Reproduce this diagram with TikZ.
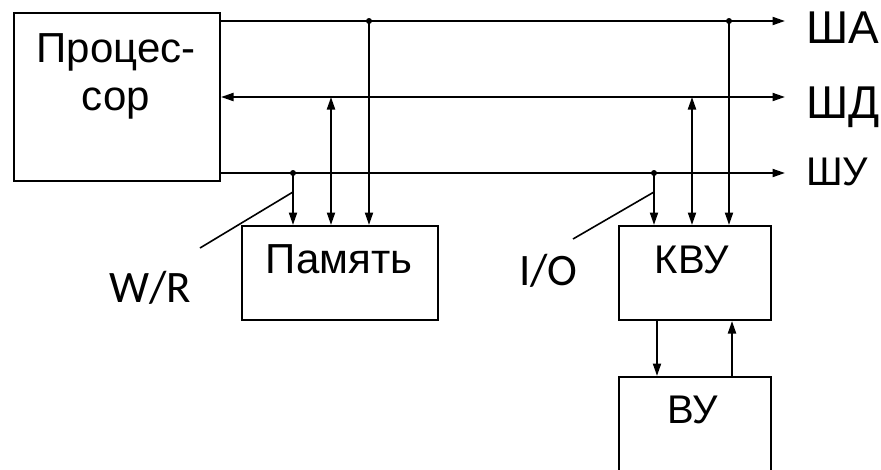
\documentclass[tikz,border=0pt]{standalone}
\usepackage{fontspec}
\setmainfont{Liberation Sans}
\newfontfamily\calfont{Carlito}
\usetikzlibrary{arrows.meta}
\begin{document}
\begin{tikzpicture}[x=1pt,y=-1pt,line width=2pt,
  box/.style={draw,line width=2pt,inner sep=0pt,anchor=north west},
  lbl/.style={font=\fontsize{42}{48}\selectfont,inner sep=0pt,anchor=base},
  sig/.style={font=\calfont\fontsize{45}{50}\selectfont,inner sep=0pt,anchor=base west},
  bus/.style={font=\fontsize{46}{50}\selectfont,inner sep=0pt,anchor=base west},
  arr/.style={-{Triangle[length=12.5pt,width=8pt]}},
  darr/.style={{Triangle[length=12.5pt,width=8pt]}-{Triangle[length=12.5pt,width=8pt]}},
  dotnode/.style={circle,fill,inner sep=0pt,minimum size=6pt},
  slash/.style={line width=1.6pt}]
\useasboundingbox (0,0) rectangle (881,469);
\clip (0,0) rectangle (881,469);

% boxes
\node[box,minimum width=206pt,minimum height=168pt] (proc) at (13,12) {};
\node[box,minimum width=196pt,minimum height=94pt] (mem) at (241,225) {};
\node[box,minimum width=152pt,minimum height=94pt] (kvu) at (618,225) {};
\node[box,minimum width=152pt,minimum height=160pt] (vu) at (618,376) {};

% box texts
\node[lbl,align=center,anchor=north] (proct) at (116,33) {Процес-\\сор};
\node[lbl] (memt) at (339,273) {Память};
\node[lbl,font=\fontsize{40}{48}\selectfont] (kvut) at (692,273) {КВУ};
\node[lbl,font=\fontsize{40}{48}\selectfont] (vut) at (693,423) {ВУ};

% bus ends and labels
\coordinate (aend) at (785,21);
\coordinate (dend) at (785,97);
\coordinate (uend) at (785,173);
\node[bus] (sha) at (805,43) {ША};
\node[bus] (shd) at (805,118) {ШД};
\node[bus,font=\fontsize{40}{48}\selectfont] (shu) at (805,185) {ШУ};

\draw[arr] (proc.east |- aend) -- (aend);
\draw[darr] (proc.east |- dend) -- (dend);
\draw[arr] (proc.east |- uend) -- (uend);

% taps
\node[dotnode] (ta1) at (369,21) {};
\coordinate (td1) at (331,97);
\node[dotnode] (tu1) at (293,173) {};
\node[dotnode] (ta2) at (729,21) {};
\coordinate (td2) at (692,97);
\node[dotnode] (tu2) at (654,173) {};

\draw[arr] (ta1.center) -- (ta1.center |- mem.north);
\draw[darr] (td1) -- (td1 |- mem.north);
\draw[arr] (tu1.center) -- (tu1.center |- mem.north);
\draw[arr] (ta2.center) -- (ta2.center |- kvu.north);
\draw[darr] (td2) -- (td2 |- kvu.north);
\draw[arr] (tu2.center) -- (tu2.center |- kvu.north);

% KVU <-> VU
\coordinate (xdn) at (657,0);
\coordinate (xup) at (732,0);
\draw[arr] (kvu.south -| xdn) -- (vu.north -| xdn);
\draw[arr] (vu.north -| xup) -- (kvu.south -| xup);

% signal labels
\coordinate (wrs) at (293,192);
\coordinate (wre) at (200,248);
\draw[slash] (wrs) -- (wre);
\node[sig] (wr) at (108,302) {W/R};
\coordinate (ios) at (654,192);
\coordinate (ioe) at (573,239);
\draw[slash] (ios) -- (ioe);
\node[sig] (io) at (518,285) {I/O};
\end{tikzpicture}
\end{document}
